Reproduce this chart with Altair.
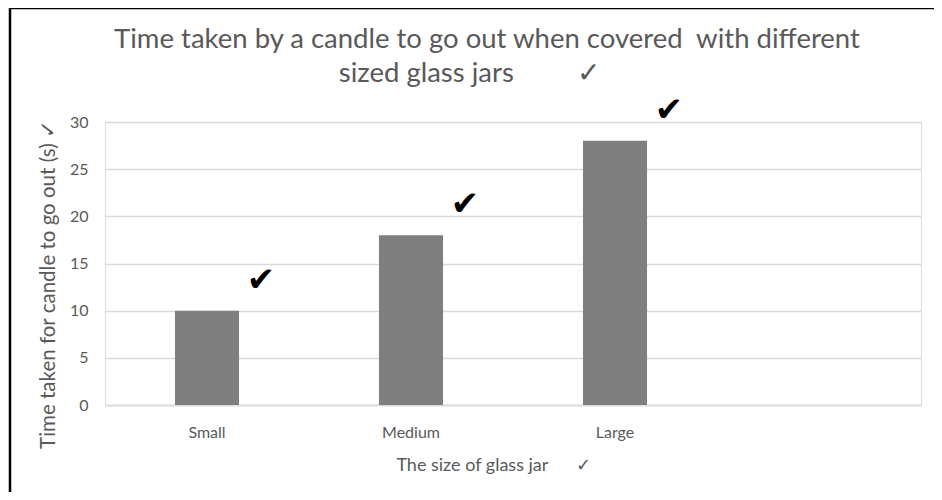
import altair as alt
import pandas as pd

NB = "\u00a0"
sizes = ["Small", "Medium", "Large"]
times = [10, 18, 28]
x_domain = ["Small", "Medium", "Large", ""]
y_ticks = [0, 5, 10, 15, 20, 25, 30]
title_lines = ["Time taken by a candle to go out when covered" + NB * 2 + "with different",
               "sized glass jars" + NB * 9 + "\u2713" + NB * 2 + "\u2800"]
x_title = "The size of glass jar" + NB * 6 + "\u2713"
y_title = "Time taken for candle to go out (s) \u2713"

df = pd.DataFrame({"size": sizes, "time": times})
title_df = pd.DataFrame({"t": ["\n".join(title_lines)]})

TXT = "#595959"
FONT = "Lato"

x_enc = alt.X("size:N", scale=alt.Scale(domain=x_domain, paddingInner=0.686, paddingOuter=0.343),
              sort=x_domain,
              axis=alt.Axis(title=x_title, labelAngle=0, ticks=False, domainColor="#d9d9d9",
                            domainWidth=1.5, labelPadding=19, labelFontSize=16, labelColor=TXT,
                            labelFont=FONT, titleFont=FONT, titleFontSize=18, titleColor=TXT,
                            titleFontWeight="normal", titlePadding=16, titleX=388))
y_enc = alt.Y("time:Q", scale=alt.Scale(domain=[0, 30]),
              axis=alt.Axis(title=y_title, values=y_ticks, ticks=False, domain=False,
                            gridColor="#d9d9d9", gridWidth=1.5, labelPadding=17,
                            labelFontSize=16, labelColor=TXT, labelFont=FONT,
                            titleFont=FONT, titleFontSize=20.5, titleColor=TXT,
                            titleFontWeight="normal", titlePadding=11, titleY=162))

bars = alt.Chart(df).mark_bar(color="#7f7f7f").encode(x=x_enc, y=y_enc)

checks = alt.Chart(df).mark_text(text="\u2714", font="DejaVu Sans", fontSize=34, color="black",
                                 dx=54, dy=-30).encode(x=alt.X("size:N", sort=x_domain), y="time:Q")

title = alt.Chart(title_df).mark_text(font=FONT, fontSize=27.5, color=TXT, lineBreak="\n",
                                      lineHeight=34, align="center", baseline="middle").encode(
    text="t:N", x=alt.value(382), y=alt.value(-82))

frame = alt.Chart(alt.Data(values=[{}])).mark_rect(fill="transparent", stroke="black",
                                                   strokeWidth=2.5).encode(
    x=alt.value(-95), x2=alt.value(845), y=alt.value(-114), y2=alt.value(440))

chart = alt.layer(bars, checks, title, frame).properties(
    width=816, height=283,
    autosize=alt.AutoSizeParams(type="none"),
    padding={"left": 97, "top": 114, "right": 13, "bottom": 87},
).configure_view(stroke=None).configure(background="white")

chart.save("out.html", embed_options={"renderer": "svg", "actions": False})
